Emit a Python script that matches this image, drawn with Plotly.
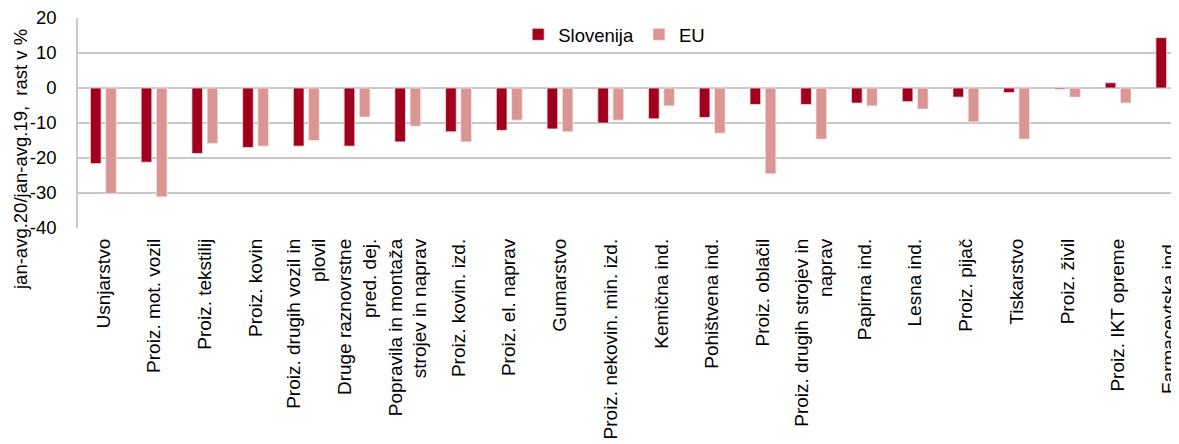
import plotly.graph_objects as go

categories = [
    "Usnjarstvo", "Proiz. mot. vozil", "Proiz. tekstilij", "Proiz. kovin",
    "Proiz. drugih vozil in<br>plovil", "Druge raznovrstne<br>pred. dej.",
    "Popravila in montaža<br>strojev in naprav", "Proiz. kovin. izd.",
    "Proiz. el. naprav", "Gumarstvo", "Proiz. nekovin. min. izd.",
    "Kemična ind.", "Pohištvena ind.", "Proiz. oblačil",
    "Proiz. drugih strojev in<br>naprav", "Papirna ind.", "Lesna ind.",
    "Proiz. pijač", "Tiskarstvo", "Proiz. živil", "Proiz. IKT opreme",
    "Farmacevtska ind.",
]
slovenija = [-21.6, -21.2, -18.7, -17.0, -16.6, -16.6, -15.4, -12.5, -12.1, -11.7,
             -10.0, -8.8, -8.4, -4.7, -4.7, -4.3, -3.9, -2.6, -1.3, -0.3, 1.5, 14.4]
eu = [-30.2, -31.1, -15.8, -16.6, -15.0, -8.3, -10.9, -15.4, -9.2, -12.5,
      -9.2, -5.1, -12.9, -24.5, -14.6, -5.1, -6.0, -9.7, -14.6, -2.6, -4.3, 5.2]
y_ticks = [-40, -30, -20, -10, 0, 10, 20]
y_ticktext = ["-40", "-30", "-20", "-10", "0", "10", "20"]

FONT = "Liberation Sans, Arial, sans-serif"
GRID = "#C8C8C8"

fig = go.Figure()
fig.add_trace(go.Bar(name="Slovenija", x=categories, y=slovenija,
                     marker=dict(color="#A0001E", line=dict(color="#F3DADA", width=0.8))))
fig.add_trace(go.Bar(name="EU", x=categories, y=eu,
                     marker=dict(color="#D99694", line=dict(color="#F6E4E4", width=0.8))))

# the page body adds an 8px offset, so the figure is sized to fill the window after it
fig.update_layout(
    width=1171, height=436,
    margin=dict(l=70, r=0, t=10, b=216),
    paper_bgcolor="white", plot_bgcolor="white",
    barmode="group", bargap=0.4, bargroupgap=0.3,
    font=dict(family=FONT, size=18, color="#000000"),
    showlegend=True,
    legend=dict(orientation="h", x=0.487, y=0.92, xanchor="center", yanchor="middle",
                font=dict(size=18.5), bgcolor="rgba(0,0,0,0)", itemwidth=30,
                traceorder="normal"),
    xaxis=dict(range=[-0.5, 21.2], tickangle=-90, showgrid=False, showline=False,
               ticks="", tickfont=dict(size=19), ticklabelstandoff=6, automargin=False,
               ticklabeloverflow="allow"),
    yaxis=dict(range=[-40, 20], tickvals=y_ticks, ticktext=y_ticktext, showgrid=True,
               gridcolor=GRID, gridwidth=1.5, zeroline=True, zerolinecolor=GRID,
               zerolinewidth=1.5, showline=True, linecolor=GRID, linewidth=1.5, ticks="",
               tickfont=dict(size=18.5), ticklabelstandoff=16, automargin=False,
               ticklabeloverflow="allow"),
    annotations=[dict(text="jan-avg.20/jan-avg.19,  rast v %", textangle=-90,
                      xref="paper", yref="paper", x=(20 - 78) / 1101, y=(228 - 160) / 210,
                      xanchor="center", yanchor="middle", showarrow=False,
                      font=dict(size=18.5))],
)

fig.write_html("out.html")
